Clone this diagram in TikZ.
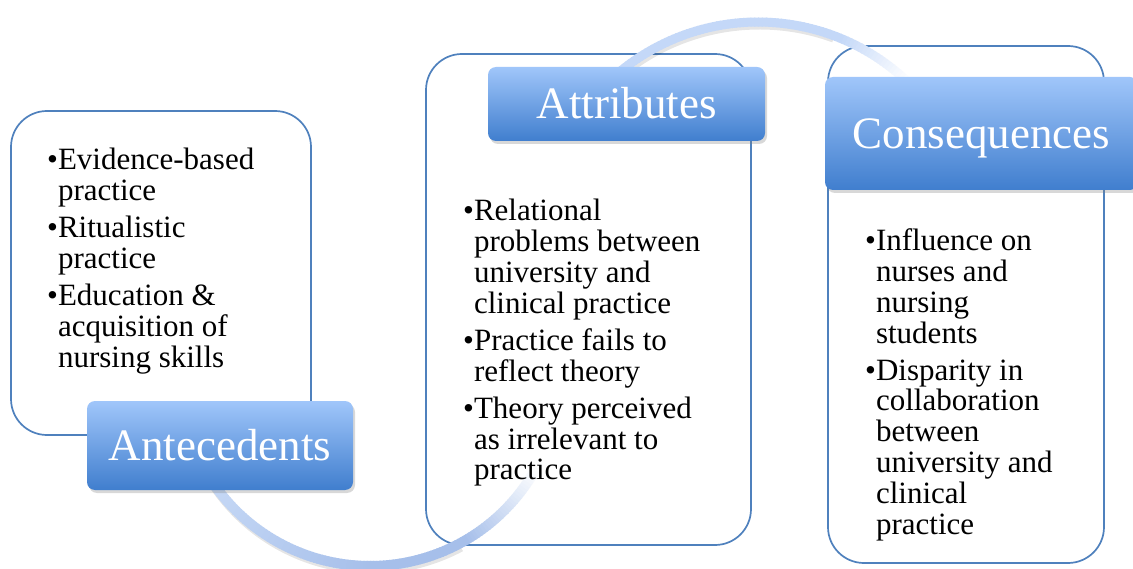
\documentclass[tikz,border=0pt]{standalone}
\usepackage{fontspec}
\setmainfont{Liberation Serif}
\usetikzlibrary{shadows}
\definecolor{boxborder}{RGB}{79,129,189}
\definecolor{labtop}{RGB}{160,198,250}
\definecolor{labbot}{RGB}{64,126,206}
\definecolor{arclight}{RGB}{200,218,246}
\definecolor{arcdark}{RGB}{166,191,234}
\definecolor{arctop}{RGB}{196,216,248}
\newcommand{\bodyfont}{\fontsize{31}{30.8}\selectfont}
\begin{document}
\begin{tikzpicture}[x=1pt,y=-1pt,
  textbox/.style={draw=boxborder, line width=1.7pt, fill=white, rounded corners=36pt, inner sep=0pt},
  labelbox/.style={rounded corners=8pt, top color=labtop, bottom color=labbot,
    drop shadow={shadow xshift=2pt, shadow yshift=-3pt, opacity=0.3},
    text=white, font=\fontsize{45}{54}\selectfont, text height=30pt, text depth=0pt, inner sep=0pt},
  bodytext/.style={font=\bodyfont, inner sep=0pt, anchor=base west, text=black}]
\clip (0,0) rectangle (1133,569);
\fill[white] (0,0) rectangle (1133,569);

% text boxes
\node[textbox, minimum width=300pt, minimum height=324pt] (antbox) at (161,273) {};
\node[textbox, minimum width=325pt, minimum height=491pt] (attbox) at (588.5,299.5) {};
\node[textbox, minimum width=276pt, minimum height=517pt] (conbox) at (966,304.5) {};

% bottom arc (Antecedents -> Attributes)
\draw[line width=10pt, black, opacity=0.10] ([shift={(371.5,379)}]150:190) arc[start angle=150, end angle=62, radius=190];
\foreach \a [evaluate=\a as \p using {max(0,min(100,(\a-90)*100/60))}] in {150,149,...,61}
  \draw[line width=10pt, color=arclight!\p!arcdark] ([shift={(370,376)}]\a:190) arc[start angle=\a, end angle=\a-1.3, radius=190];
\foreach \a [evaluate=\a as \p using {(\a-30)*100/30}] in {60,59,...,31}
  \draw[line width=10pt, color=arcdark!\p!white] ([shift={(370,376)}]\a:190) arc[start angle=\a, end angle=\a-1.3, radius=190];

% top arc (Attributes -> Consequences)
\draw[line width=9pt, black, opacity=0.10] ([shift={(759.5,242)}]-130:217) arc[start angle=-130, end angle=-70, radius=217];
\foreach \a in {-130,-129,...,-69}
  \draw[line width=9pt, color=arctop] ([shift={(758,239)}]\a:217) arc[start angle=\a, end angle=\a+1.3, radius=217];
\foreach \a [evaluate=\a as \p using {(-47-\a)*100/21}] in {-68,-67,...,-48}
  \draw[line width=9pt, color=arctop!\p!white] ([shift={(758,239)}]\a:217) arc[start angle=\a, end angle=\a+1.3, radius=217];

% labels
\node[labelbox, minimum width=266pt, minimum height=89pt] (antlab) at (220,445.5) {Antecedents};
\node[labelbox, minimum width=277pt, minimum height=74pt] (attlab) at (626.5,104) {Attributes};
\node[labelbox, minimum width=313pt, minimum height=113pt] (conlab) at (981.5,133.5) {Consequences};

% body texts
\node[bodytext] (anttext) at (47,170) {\begin{tabular}[t]{@{}l@{}l@{}}
•&Evidence-based\\ &practice\\[6pt]
•&Ritualistic\\ &practice\\[6pt]
•&Education \&\\ &acquisition of\\ &nursing skills
\end{tabular}};
\node[bodytext] (atttext) at (463,221) {\begin{tabular}[t]{@{}l@{}l@{}}
•&Relational\\ &problems between\\ &university and\\ &clinical practice\\[6pt]
•&Practice fails to\\ &reflect theory\\[6pt]
•&Theory perceived\\ &as irrelevant to\\ &practice
\end{tabular}};
\node[bodytext] (context) at (865,251) {\begin{tabular}[t]{@{}l@{}l@{}}
•&Influence on\\ &nurses and\\ &nursing\\ &students\\[6pt]
•&Disparity in\\ &collaboration\\ &between\\ &university and\\ &clinical\\ &practice
\end{tabular}};
\end{tikzpicture}
\end{document}
